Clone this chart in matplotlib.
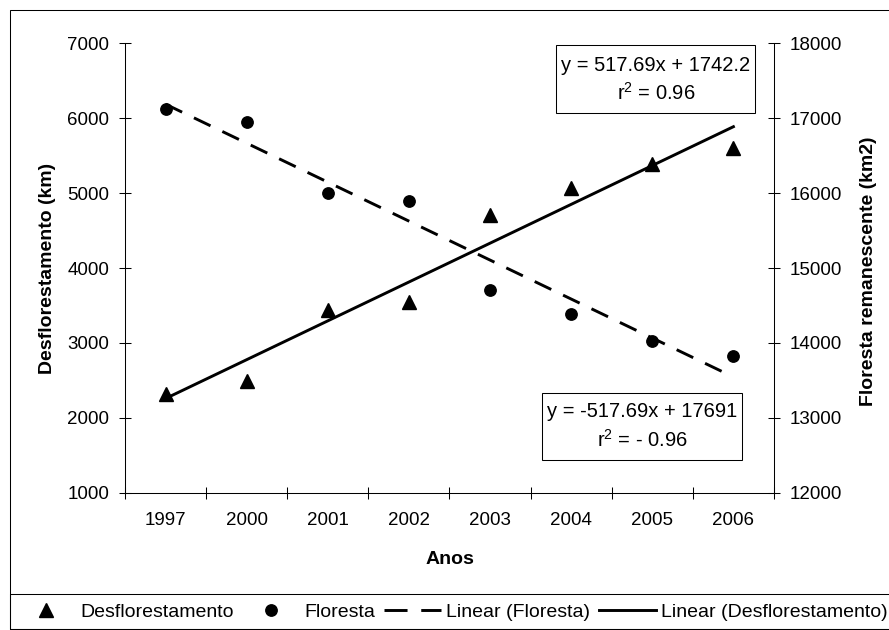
import matplotlib
matplotlib.use('Agg')
import matplotlib.pyplot as plt
from matplotlib.lines import Line2D
from matplotlib.patches import Rectangle
import numpy as np

plt.rcParams['font.family'] = 'Liberation Sans'
plt.rcParams['mathtext.fontset'] = 'custom'
plt.rcParams['mathtext.rm'] = 'Liberation Sans'
plt.rcParams['mathtext.it'] = 'Liberation Sans:italic'

# data
anos = ['1997', '2000', '2001', '2002', '2003', '2004', '2005', '2006']
desflorestamento = [2320, 2490, 3445, 3550, 4710, 5070, 5390, 5600]
floresta = [17120, 16950, 16000, 15895, 14710, 14390, 14030, 13830]

eq_desf = ['y = 517.69x + 1742.2', 'r$^2$ = 0.96']
eq_flor = ['y = -517.69x + 17691', 'r$^2$ = - 0.96']

x = np.arange(1, len(anos) + 1)

fig = plt.figure(figsize=(8.89, 6.3), dpi=100)
ax = fig.add_axes([0.1406, 0.2175, 0.73, 0.7142])
ax2 = ax.twinx()

# points
ax.plot(x, desflorestamento, linestyle='none', marker='^', ms=9.5, color='black')
ax2.plot(x, floresta, linestyle='none', marker='o', ms=8.2, color='black')

# linear trendlines
c1 = np.polyfit(x, desflorestamento, 1)
ends = x[[0, -1]]
ax.plot(ends, np.polyval(c1, ends), '-', color='black', lw=2.1)
c2 = np.polyfit(x, floresta, 1)
ax2.plot(ends, np.polyval(c2, ends), linestyle=(0, (6.3, 4.5)), color='black', lw=2.1)

ax.set_xlim(0.5, len(anos) + 0.5)
ax.set_ylim(1000, 7000)
ax2.set_ylim(12000, 18000)
ax.set_yticks(range(1000, 7001, 1000))
ax2.set_yticks(range(12000, 18001, 1000))

ax.set_xticks(np.arange(0.5, len(anos) + 0.6, 1))
ax.set_xticklabels([])
ax.set_xticks(x, minor=True)
ax.set_xticklabels(anos, minor=True)
ax.tick_params(axis='x', which='minor', length=0, pad=14, labelsize=13.5)
ax.tick_params(axis='both', which='major', direction='inout', length=8, width=0.75,
               labelsize=13.5, pad=7.5)
ax2.tick_params(axis='y', direction='inout', length=8, width=0.75, labelsize=13.5, pad=7.5)

for s in ['top', 'right']:
    ax.spines[s].set_visible(False)
for s in ['top', 'left', 'bottom']:
    ax2.spines[s].set_visible(False)
for a in [ax, ax2]:
    for s in a.spines.values():
        s.set_linewidth(0.75)

ax.set_ylabel('Desflorestamento (km)', fontsize=14, fontweight='bold')
ax.yaxis.set_label_coords(-0.107, 0.5)
ax2.set_ylabel('Floresta remanescente (km2)', fontsize=14, fontweight='bold')
ax2.yaxis.set_label_coords(1.132, 0.492)
ax.set_xlabel('Anos', fontsize=14, fontweight='bold')
ax.xaxis.set_label_coords(0.5, -0.13)

# equation boxes
ax2.add_patch(Rectangle((0.6646, 0.8438), 0.306, 0.151, transform=ax2.transAxes,
                        facecolor='white', edgecolor='black', lw=0.75, zorder=5))
ax2.text(0.8182, 0.9384, eq_desf[0], transform=ax2.transAxes, ha='center', va='baseline',
         fontsize=14.5, zorder=6)
ax2.text(0.8182, 0.8733, eq_desf[1], transform=ax2.transAxes, ha='center', va='baseline',
         fontsize=14.5, zorder=6)

ax2.add_patch(Rectangle((0.643, 0.0733), 0.307, 0.1496, transform=ax2.transAxes,
                        facecolor='white', edgecolor='black', lw=0.75, zorder=5))
ax2.text(0.7966, 0.1696, eq_flor[0], transform=ax2.transAxes, ha='center', va='baseline',
         fontsize=14.5, zorder=6)
ax2.text(0.7966, 0.1029, eq_flor[1], transform=ax2.transAxes, ha='center', va='baseline',
         fontsize=14.5, zorder=6)

# outer frame and legend box
fig.add_artist(Rectangle((0.0118, 0.0016), 1.2, 0.9825, transform=fig.transFigure,
                         facecolor='none', edgecolor='black', lw=0.75))
fig.add_artist(Rectangle((0.0118, 0.0016), 1.2, 0.0555, transform=fig.transFigure,
                         facecolor='none', edgecolor='black', lw=0.75))

handles = [
    Line2D([], [], linestyle='none', marker='^', ms=9.5, color='black'),
    Line2D([], [], linestyle='none', marker='o', ms=8.2, color='black'),
    Line2D([], [], linestyle=(0, (7.9, 4.7)), lw=2.1, color='black'),
    Line2D([], [], linestyle='-', lw=2.1, color='black'),
]
labels = ['Desflorestamento', 'Floresta', 'Linear (Floresta)', 'Linear (Desflorestamento)']
fig.legend(handles, labels, loc='center left', bbox_to_anchor=(0.0202, 0.0286), ncol=4,
           frameon=False, fontsize=14, handlelength=2.9, handletextpad=0.3,
           columnspacing=0.45, borderpad=0, borderaxespad=0)

fig.savefig('out.png', dpi=100)
